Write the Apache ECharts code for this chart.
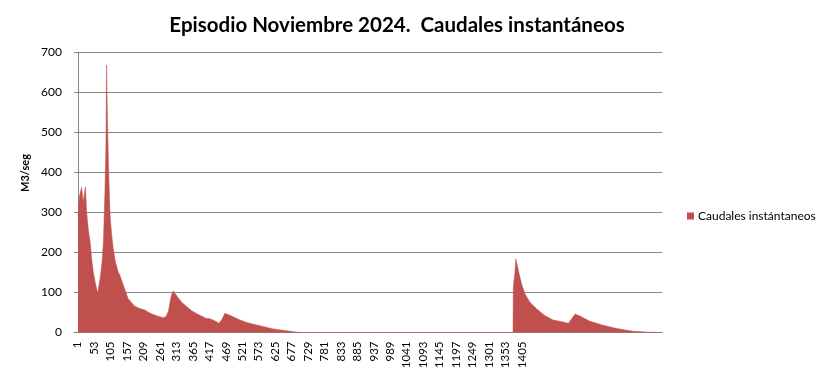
<!DOCTYPE html>
<html>
<head>
<meta charset="utf-8">
<script src="https://cdn.jsdelivr.net/npm/echarts@6/dist/echarts.min.js"></script>
<style>
html,body{margin:0;padding:0;background:#fff;}
#chart{width:830px;height:386px;}
</style>
</head>
<body>
<div id="chart"></div>
<script>
// Sample numbers (category index) and flow values (m3/s)
const sampleNo = [2, 6, 13, 18, 25, 29, 34, 40, 45, 50, 58, 64, 73, 78, 82, 87, 90, 92, 95, 98, 103, 108, 113, 120, 129, 134, 145, 160, 180, 197, 213, 230, 250, 271, 280, 288, 296, 302, 310, 318, 330, 345, 360, 377, 408, 412, 417, 435, 447, 456, 466, 482, 514, 540, 567, 619, 672, 704,
  1377, 1378, 1383, 1386, 1394, 1404, 1415, 1431, 1452, 1478, 1504, 1512, 1517, 1531, 1552, 1562, 1573, 1589, 1620, 1662, 1705, 1757, 1800, 1848];
const caudal = [290, 340, 363, 326, 365, 301, 259, 226, 184, 151, 118, 99, 143, 180, 226, 359, 470, 669, 526, 418, 293, 245, 210, 176, 151, 143, 118, 85, 66, 60, 56, 48, 42, 37, 40, 55, 90, 104, 96, 87, 75, 65, 55, 47, 35, 33, 35, 29, 23, 32, 48, 43, 31, 24, 19, 9, 3, 0,
  0, 115, 150, 184, 155, 121, 96, 75, 59, 42, 31, 30, 33, 27, 23, 34, 46, 41, 28, 18, 10, 3, 1, 0];
const tickLabels = [1, 53, 105, 157, 209, 261, 313, 365, 417, 469, 521, 573, 625, 677, 729, 781, 833, 885, 937, 989, 1041, 1093, 1145, 1197, 1249, 1301, 1353, 1405];
const seriesName = 'Caudales instántaneos';
const titleText = 'Episodio Noviembre 2024.  Caudales instantáneos';
const yAxisTitle = 'M3/seg';

const chart = echarts.init(document.getElementById('chart'), null, {renderer: 'canvas'});
const data = sampleNo.map((s, i) => [s - 1, caudal[i]]);
const FONT = 'Lato';
chart.setOption({
  animation: false,
  backgroundColor: '#ffffff',
  title: {
    text: titleText,
    left: 392, top: 10, textAlign: 'center',
    textStyle: {fontFamily: FONT, fontWeight: 'bold', fontSize: 20.5, color: '#000'}
  },
  legend: {
    left: 682, top: 205,
    itemWidth: 7, itemHeight: 7, itemGap: 4,
    icon: 'rect',
    textStyle: {fontFamily: FONT, fontSize: 12, color: '#000', padding: [0, 0, 0, -1]},
    data: [seriesName]
  },
  grid: {left: 74, right: 168, top: 52.5, bottom: 53.5, containLabel: false},
  xAxis: {
    type: 'value', min: -12, max: 1847,
    axisLine: {show: true, lineStyle: {color: '#868686', width: 1}},
    axisTick: {show: false},
    splitLine: {show: false},
    axisLabel: {
      customValues: tickLabels.map(v => v - 1),
      formatter: v => String(v + 1),
      rotate: 90, margin: 9,
      fontFamily: FONT, fontSize: 11.5, color: '#000'
    }
  },
  yAxis: {
    type: 'value', min: 0, max: 700, interval: 100,
    axisLine: {show: true, lineStyle: {color: '#868686', width: 1}},
    axisTick: {show: false},
    splitLine: {show: true, lineStyle: {color: '#868686', width: 1}},
    axisLabel: {margin: 12, fontFamily: FONT, fontSize: 12, color: '#000'}
  },
  graphic: [{
    type: 'text', x: 25, y: 173, rotation: Math.PI / 2,
    style: {text: yAxisTitle, fontFamily: FONT, fontWeight: 'bold', fontSize: 11, fill: '#000', align: 'center', verticalAlign: 'middle'}
  }],
  series: [{
    name: seriesName, type: 'line', data: data,
    showSymbol: false, symbol: 'none',
    lineStyle: {width: 0.5, color: '#C0504D'},
    itemStyle: {color: '#C0504D'},
    areaStyle: {color: '#C0504D', opacity: 1}
  }]
});
</script>
</body>
</html>
